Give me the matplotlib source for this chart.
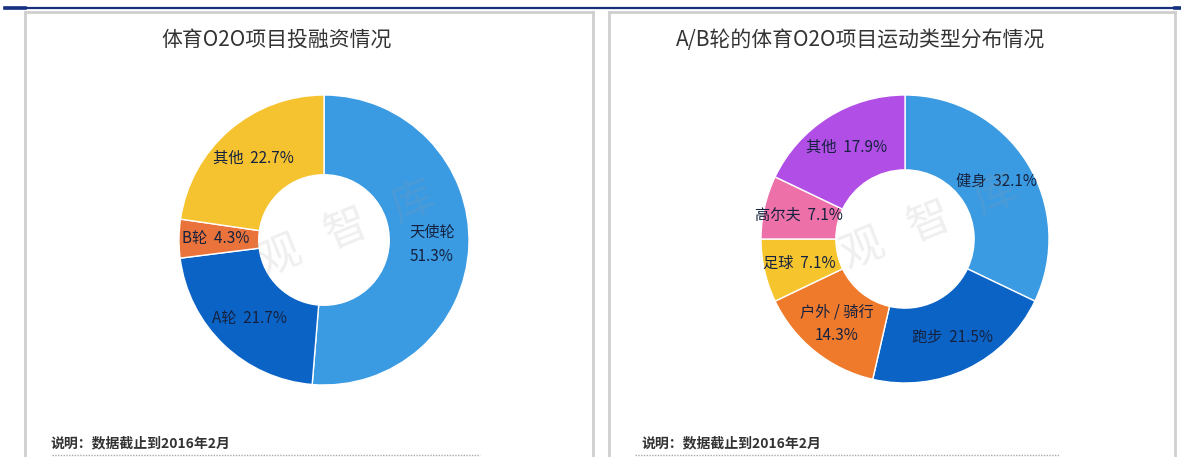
import matplotlib
matplotlib.use("Agg")
import matplotlib.pyplot as plt
from matplotlib.lines import Line2D
import numpy as np

plt.rcParams['font.family'] = ['Noto Sans CJK SC', 'DejaVu Sans']

# ---- data ----
left_title = "体育O2O项目投融资情况"
left_categories = ["天使轮", "A轮", "B轮", "其他"]
left_values = [51.3, 21.7, 4.3, 22.7]
left_colors = ["#3A9AE2", "#0B63C6", "#E9733A", "#F6C330"]

right_title = "A/B轮的体育O2O项目运动类型分布情况"
right_categories = ["健身", "跑步", "户外 / 骑行", "足球", "高尔夫", "其他"]
right_values = [32.1, 21.5, 14.3, 7.1, 7.1, 17.9]
right_colors = ["#3A9AE2", "#0B63C6", "#F07A2C", "#F6C52E", "#EE70A8", "#B04EE6"]

note_text = "说明：数据截止到2016年2月"
watermark = "观   智   库"

W, H = 1181, 457
fig = plt.figure(figsize=(W / 100, H / 100), dpi=100)
fig.patch.set_facecolor("white")


def fx(x):
    return x / W


def fy(y):
    return (H - y) / H


def hline(x0, x1, y, **kw):
    fig.add_artist(Line2D([fx(x0), fx(x1)], [fy(y), fy(y)],
                          transform=fig.transFigure, **kw))


def vline(x, y0, y1, **kw):
    fig.add_artist(Line2D([fx(x), fx(x)], [fy(y0), fy(y1)],
                          transform=fig.transFigure, **kw))


# page header rule
hline(5, 1181, 7.5, color="#16307E", lw=1.6)
hline(5, 25, 7.5, color="#16307E", lw=2.6)
hline(1175, 1181, 7.5, color="#16307E", lw=2.6)

# panel frames
frame = dict(color="#CFCFCF", lw=2.0)
hline(25, 593, 12, **frame)
vline(25, 12, 457, **frame)
vline(593, 12, 457, **frame)
hline(609, 1175, 12, **frame)
vline(609, 12, 457, **frame)
vline(1175, 12, 457, **frame)


def donut(cx, cy, R, hole, values, cats, colors, wrap, label_r, wm_xy):
    ax = fig.add_axes([fx(cx - R), fy(cy + R), 2 * R / W, 2 * R / H])
    wedges, _ = ax.pie(values, colors=colors, startangle=90, counterclock=False,
                       radius=1.0,
                       wedgeprops=dict(width=1 - hole, edgecolor="white", linewidth=1.0))
    ax.set_xlim(-1, 1)
    ax.set_ylim(-1, 1)
    ax.set_aspect("equal")
    ax.axis("off")
    for w, cat, val, wr in zip(wedges, cats, values, wrap):
        mid = np.deg2rad((w.theta1 + w.theta2) / 2)
        sep = "\n" if wr else "  "
        ax.text(label_r * np.cos(mid), label_r * np.sin(mid), f"{cat}{sep}{val:.1f}%",
                ha="center", va="center", fontsize=11, color="#15223F",
                linespacing=1.55, clip_on=False)
    ax.text(wm_xy[0], wm_xy[1], watermark, ha="center", va="center", fontsize=31,
            color="#9A9A9A", alpha=0.16, rotation=22, clip_on=False)
    return ax


donut(324, 240, 145, 0.45, left_values, left_categories, left_colors,
      [True, False, False, False], 0.745, (0.16, 0.07))
donut(905, 239, 144, 0.48, right_values, right_categories, right_colors,
      [False, False, True, False, False, False], 0.755, (0.17, 0.11))

# titles
fig.text(fx(277), fy(40), left_title, ha="center", va="center",
         fontsize=15, color="#333333")
fig.text(fx(861), fy(40), right_title, ha="center", va="center",
         fontsize=15, color="#333333")

# footnotes
fig.text(fx(50), fy(443), note_text, ha="left", va="center",
         fontsize=10, color="#333333", fontweight="bold")
fig.text(fx(641), fy(443), note_text, ha="left", va="center",
         fontsize=10, color="#333333", fontweight="bold")
hline(52, 480, 455, color="#AAAAAA", lw=1.0, linestyle=(0, (1, 1)))
hline(635, 1060, 455, color="#AAAAAA", lw=1.0, linestyle=(0, (1, 1)))

fig.savefig("out.png", dpi=100, facecolor="white")
